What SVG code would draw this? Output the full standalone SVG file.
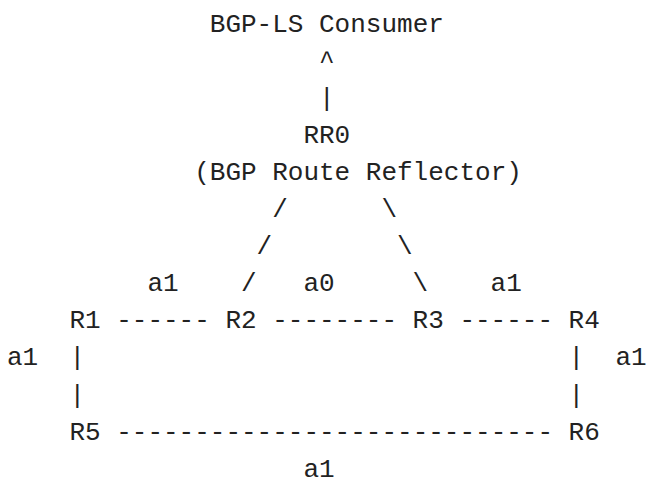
<svg xmlns="http://www.w3.org/2000/svg" width="649" height="479" viewBox="0 0 649 479">
<style>
text{font-family:"Liberation Mono","DejaVu Sans Mono",monospace;font-size:26px;fill:#222;}
</style>
<rect width="649" height="479" fill="#fff"/>
<g id="consumer"><text x="209.8" y="31.7">BGP-LS Consumer</text></g>
<g id="rr0"><text x="303.4" y="142.9">RR0</text><text x="194.2" y="180">(BGP Route Reflector)</text></g>
<g id="r1"><text x="69.4" y="328.3">R1</text></g>
<g id="r2"><text x="225.4" y="328.3">R2</text></g>
<g id="r3"><text x="412.6" y="328.3">R3</text></g>
<g id="r4"><text x="568.6" y="328.3">R4</text></g>
<g id="r5"><text x="69.4" y="439.6">R5</text></g>
<g id="r6"><text x="568.6" y="439.6">R6</text></g>
<g id="connectors">
<text x="319" y="68.8">^</text>
<text x="319" y="105.9">|</text>
<text x="272.2" y="217.1">/</text>
<text x="381.4" y="217.1">\</text>
<text x="256.6" y="254.2">/</text>
<text x="397" y="254.2">\</text>
<text x="241" y="291.3">/</text>
<text x="412.6" y="291.3">\</text>
<text x="116.2" y="328.3">------</text>
<text x="272.2" y="328.3">--------</text>
<text x="459.4" y="328.3">------</text>
<text x="69.4" y="365.4">|</text>
<text x="568.6" y="365.4">|</text>
<text x="69.4" y="402.5">|</text>
<text x="568.6" y="402.5">|</text>
<text x="116.2" y="439.6">----------------------------</text>
</g>
<g id="labels">
<text x="147.4" y="291.3">a1</text>
<text x="303.4" y="291.3">a0</text>
<text x="490.6" y="291.3">a1</text>
<text x="7" y="365.4">a1</text>
<text x="615.4" y="365.4">a1</text>
<text x="303.4" y="476.7">a1</text>
</g>
</svg>
